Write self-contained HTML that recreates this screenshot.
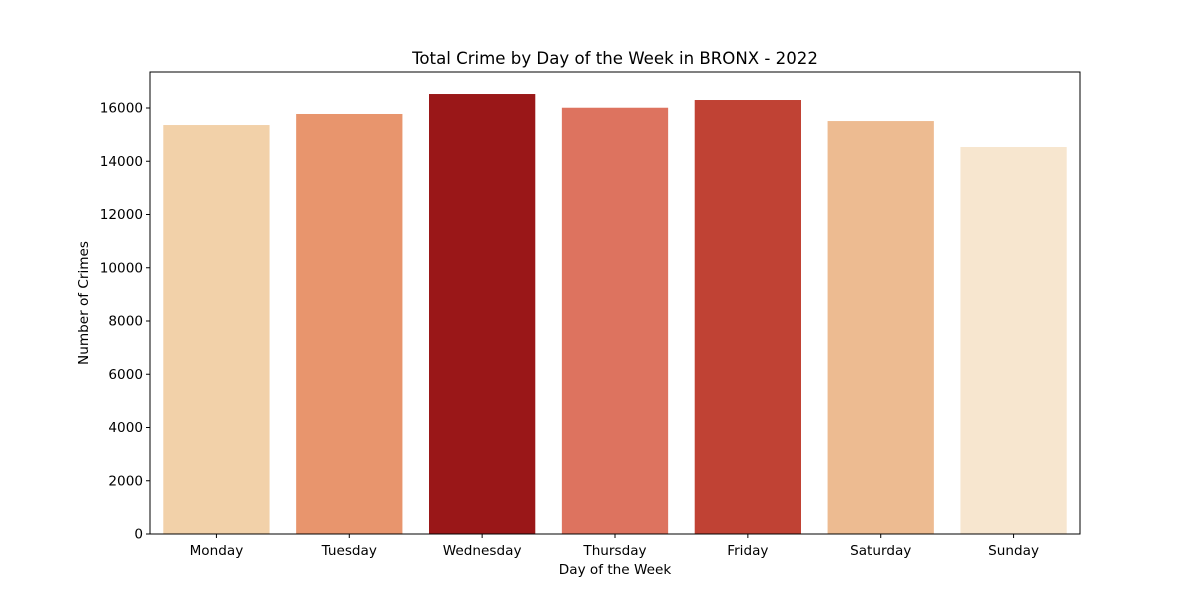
<!DOCTYPE html>
<html><head><meta charset="utf-8"><style>
body{margin:0;background:#fff;font-family:"Liberation Sans","DejaVu Sans",sans-serif;}
svg text{font-family:"DejaVu Sans","Liberation Sans",sans-serif;}
</style></head><body>
<svg id="chart" width="1200" height="600" xmlns="http://www.w3.org/2000/svg">
<rect width="1200" height="600" fill="#fff"/>
<text x="615" y="64" font-size="16.6" text-anchor="middle">Total Crime by Day of the Week in BRONX - 2022</text>
<text x="615" y="574" font-size="13.6" text-anchor="middle">Day of the Week</text>
<text transform="translate(88,303) rotate(-90)" font-size="13.6" text-anchor="middle">Number of Crimes</text>
<g id="bars"></g><g id="ticks"></g>
<rect x="150" y="72" width="930" height="462" fill="none" stroke="#000" stroke-width="1"/>
</svg>
<script>
const categories=["Monday","Tuesday","Wednesday","Thursday","Friday","Saturday","Sunday"];
const values=[15360,15775,16525,16010,16300,15510,14535];
const colors=["#f2d1a9","#e8956d","#9a1718","#dd735f","#c04234","#edbb91","#f7e6cf"];
const yTicks=[0,2000,4000,6000,8000,10000,12000,14000,16000];
const L=150,R=1080,T=72,B=534,ns="http://www.w3.org/2000/svg";
const y=v=>B-v/16000*426;
const band=(R-L)/categories.length;
const x=i=>L+band*i+band*0.1;
const bars=document.getElementById('bars'),ticks=document.getElementById('ticks');
function mk(t,a){const e=document.createElementNS(ns,t);for(const k in a)e.setAttribute(k,a[k]);return e;}
values.forEach((v,i)=>{
 const r=mk('rect',{x:x(i),y:y(v),width:band*0.8,height:B-y(v),fill:colors[i]});
 
 
 bars.appendChild(r);
 const cx=L+band*(i+0.5);
 const tl=mk('line',{x1:cx,x2:cx,y1:B,y2:B+4,stroke:'#000'});
 
 
 ticks.appendChild(tl);
 const t=mk('text',{x:cx,y:B+21,'font-size':13.6,'text-anchor':'middle'});
 t.textContent=categories[i];
 
 
 ticks.appendChild(t);
});
yTicks.forEach(v=>{
 const tl=mk('line',{x1:L-4,x2:L,y1:y(v),y2:y(v),stroke:'#000'});
 
 
 ticks.appendChild(tl);
 const t=mk('text',{x:L-7,y:y(v)+4.5,'font-size':13.6,'text-anchor':'end'});
 t.textContent=v;
 
 
 ticks.appendChild(t);
});
</script>
</body></html>
